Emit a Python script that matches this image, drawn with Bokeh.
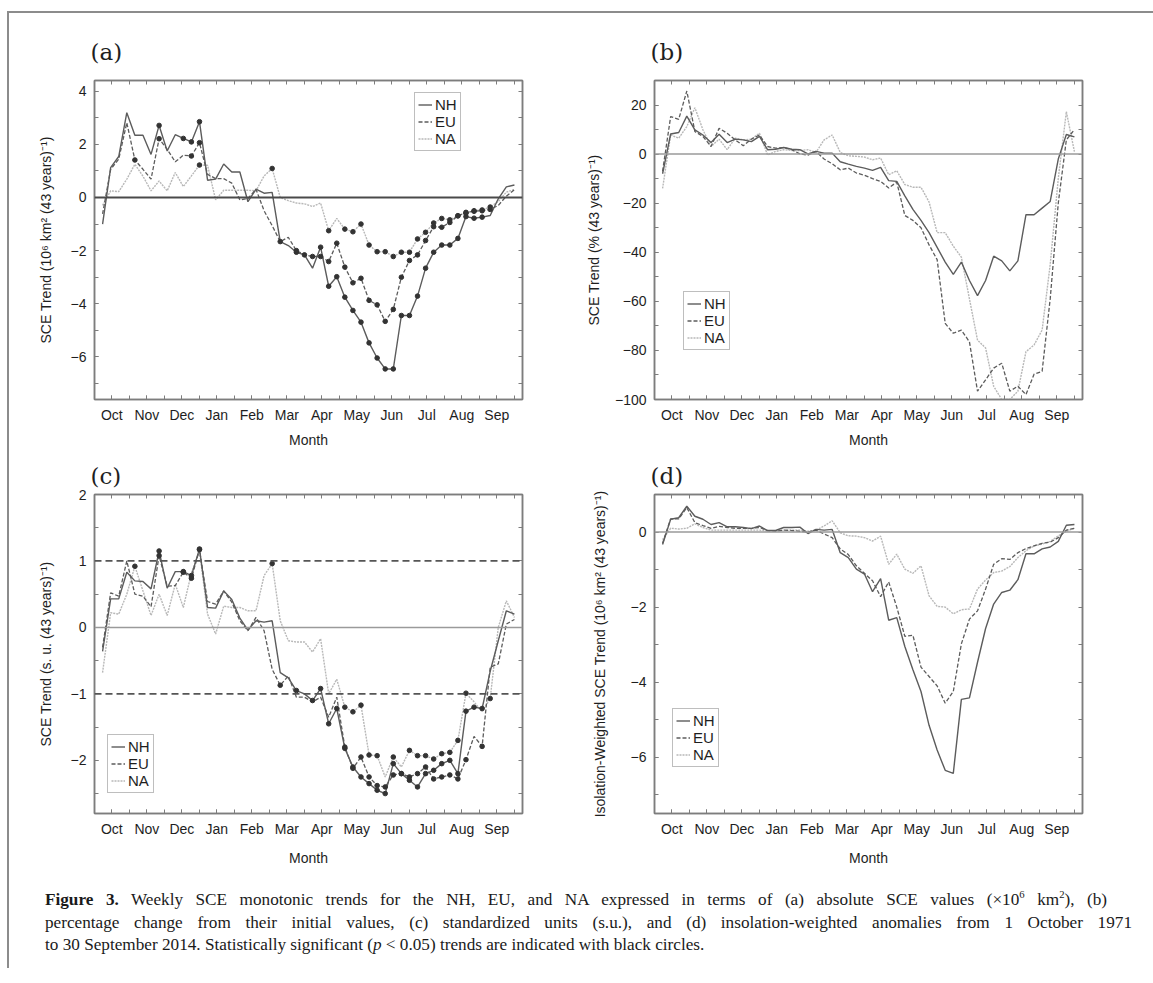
from bokeh.plotting import figure
from bokeh.models import (Range1d, LinearAxis, FixedTicker, CustomJSTickFormatter,
                          Legend, LegendItem, Span, Div)
from bokeh.layouts import row, column
from bokeh.embed import file_html
from bokeh.resources import INLINE

# ---------------- data ----------------
weeks = list(range(52))
months = ["Oct", "Nov", "Dec", "Jan", "Feb", "Mar", "Apr", "May", "Jun", "Jul", "Aug", "Sep"]
series_names = ["NH", "EU", "NA"]
panel_letters = ["(a)", "(b)", "(c)", "(d)"]

# (a) absolute SCE trend (10^6 km^2 per 43 years)
nh_a = [-1.0, 1.12, 1.54, 3.19, 2.34, 2.34, 1.62, 2.71, 1.75, 2.36,
        2.22, 2.09, 2.85, 0.65, 0.69, 1.26, 0.96, 0.96, -0.16, 0.31,
        0.16, 0.19, -1.66, -1.81, -2.06, -2.16, -2.66, -1.87, -3.34, -2.98,
        -3.75, -4.25, -4.69, -5.47, -6.04, -6.45, -6.45, -4.44, -4.44, -3.71,
        -2.66, -2.06, -1.79, -1.79, -1.54, -0.72, -0.78, -0.74, -0.68, -0.05,
        0.40, 0.47]
eu_a = [-0.62, 1.06, 1.44, 2.81, 1.41, 1.06, 0.69, 2.21, 1.81, 1.34,
        1.59, 1.56, 2.06, 0.87, 0.71, 0.71, 0.54, -0.09, -0.04, 0.31,
        -0.5, -1.06, -1.66, -1.5, -2.0, -2.15, -2.22, -2.22, -2.41, -1.72,
        -2.62, -3.21, -3.04, -3.87, -4.04, -4.66, -4.21, -3.0, -2.37, -2.16,
        -1.62, -1.1, -1.12, -0.94, -0.69, -0.56, -0.52, -0.5, -0.45, -0.3,
        0.05, 0.29]
na_a = [-0.3, 0.25, 0.22, 0.69, 1.25, 0.8, 0.25, 0.62, 0.25, 0.94,
        0.41, 0.81, 1.22, 1.21, -0.09, 0.27, 0.27, 0.27, 0.27, 0.25,
        0.81, 1.09, 0.0, -0.12, -0.21, -0.24, -0.34, -0.21, -1.25, -0.79,
        -1.19, -1.29, -1.0, -1.79, -2.04, -2.04, -2.22, -2.06, -2.06, -1.56,
        -1.31, -0.96, -0.79, -0.84, -0.69, -0.59, -0.5, -0.47, -0.36, -0.15,
        0.2, 0.3]
sig_nh_a = [7, 10, 11, 12, 22, 24, 25, 27] + list(range(28, 48))
sig_eu_a = [4, 7, 11, 12, 24, 26, 27] + list(range(28, 49))
sig_na_a = [12, 21, 28] + list(range(30, 49))

# (b) percentage change
nh_b = [-8, 8.2, 8.8, 15.5, 9.9, 7.8, 4.7, 8.1, 4.7, 6.1,
        5.8, 5.1, 7.2, 1.8, 2.0, 2.7, 2.0, 1.8, 0.1, 1.1,
        0.4, 0.4, -3.1, -4.1, -5.0, -5.7, -6.6, -5.4, -10.8, -11.1,
        -17, -22.5, -27, -32, -38, -44, -49, -44, -51.5, -57.7,
        -51.5, -41.6, -43.5, -47.6, -43.5, -24.7, -24.7, -22, -19.3, -2,
        8, 7]
eu_b = [-7, 15.3, 14.2, 25.7, 9.2, 7.2, 3.1, 10.5, 8.5, 5.8,
        3.4, 6.1, 7.8, 3.1, 2.4, 2.7, 1.8, 0.1, -0.4, 1.1,
        -2.0, -3.9, -6.4, -5.7, -7.7, -8.6, -10.0, -11.1, -13.8, -11.4,
        -25, -27, -30, -37, -43, -69, -73, -71.7, -76.5, -96.6,
        -92, -87.2, -85.2, -96.6, -94.6, -98, -89.7, -88.5, -59, -20,
        5.8, 10]
na_b = [-14, 7.8, 6.5, 11.2, 18.9, 9.9, 3.1, 6.1, 1.8, 6.5,
        5.8, 6.1, 8.5, -0.3, 1.1, 1.8, 1.5, 1.5, 1.8, 0.7,
        5.8, 7.8, 0.7, -0.7, -0.9, -1.2, -2.3, -1.6, -8.4, -6.8,
        -12.4, -13.5, -13.5, -19.5, -32, -32, -37.5, -42, -59, -75.8,
        -79, -94.6, -100, -100, -96.6, -80.5, -77.8, -71.7, -45, -10,
        17.3, 1]

# (c) standardized units
nh_c = [-0.36, 0.43, 0.43, 0.83, 0.7, 0.69, 0.58, 1.15, 0.59, 0.84,
        0.84, 0.78, 1.18, 0.3, 0.29, 0.55, 0.42, 0.14, -0.04, 0.1,
        0.08, 0.1, -0.68, -0.76, -0.95, -1.0, -1.1, -0.92, -1.45, -1.22,
        -1.82, -2.1, -2.25, -2.35, -2.45, -2.5, -2.05, -2.2, -2.3, -2.4,
        -2.2, -2.15, -2.05, -2.0, -2.2, -1.26, -1.2, -1.22, -0.66, -0.2,
        0.25, 0.2]
eu_c = [-0.3, 0.52, 0.47, 1.0, 0.5, 0.47, 0.31, 1.08, 0.62, 0.63,
        0.83, 0.74, 1.17, 0.39, 0.35, 0.55, 0.38, 0.1, -0.05, 0.15,
        -0.05, -0.63, -0.87, -0.73, -1.05, -1.05, -1.12, -1.05, -1.35, -1.05,
        -1.8, -2.12, -1.95, -2.25, -2.38, -2.4, -2.22, -2.2, -2.25, -2.2,
        -2.1, -2.28, -2.25, -2.22, -2.28, -1.99, -1.64, -1.79, -0.6, -0.55,
        0.05, 0.12]
na_c = [-0.68, 0.22, 0.2, 0.5, 0.92, 0.55, 0.18, 0.5, 0.18, 0.65,
        0.3, 0.82, 1.15, 0.2, -0.1, 0.32, 0.3, 0.3, 0.25, 0.25,
        0.78, 0.96, 0.1, -0.2, -0.22, -0.22, -0.37, -0.17, -1.0, -0.78,
        -1.2, -1.27, -1.17, -1.92, -1.93, -2.25, -1.95, -2.1, -1.85, -1.93,
        -1.93, -1.98, -1.9, -1.88, -1.7, -0.99, -1.12, -1.27, -1.07, 0.0,
        0.4, 0.15]
sig_nh_c = [7, 10, 11, 12, 24, 26, 27, 28, 29] + list(range(30, 48))
sig_eu_c = [7, 10, 11, 12, 22] + list(range(30, 46)) + [47]
sig_na_c = [4, 21, 30, 31, 32, 33, 34, 36, 38, 39, 40, 41, 42, 43, 44, 45, 48]

# (d) insolation-weighted
nh_d = [-0.33, 0.34, 0.38, 0.69, 0.42, 0.34, 0.2, 0.25, 0.14, 0.14,
        0.12, 0.09, 0.16, 0.04, 0.04, 0.12, 0.12, 0.13, -0.04, 0.07,
        0.05, 0.07, -0.55, -0.68, -0.99, -1.12, -1.59, -1.24, -2.35, -2.28,
        -3.05, -3.67, -4.25, -5.15, -5.81, -6.35, -6.43, -4.46, -4.42, -3.47,
        -2.57, -1.92, -1.61, -1.55, -1.27, -0.58, -0.58, -0.45, -0.4, -0.25,
        0.18, 0.2]
eu_d = [-0.3, 0.35, 0.35, 0.65, 0.25, 0.17, 0.1, 0.15, 0.12, 0.1,
        0.1, 0.1, 0.12, 0.04, 0.02, 0.05, 0.04, 0.02, 0.0, 0.05,
        -0.05, -0.15, -0.45, -0.6, -0.9, -1.1, -1.3, -1.72, -1.33, -2.0,
        -2.78, -2.75, -3.6, -3.85, -4.1, -4.56, -4.25, -2.98, -2.32, -2.1,
        -1.52, -0.86, -0.71, -0.73, -0.55, -0.44, -0.37, -0.3, -0.27, -0.15,
        0.05, 0.1]
na_d = [-0.2, 0.1, 0.08, 0.1, 0.22, 0.12, 0.05, 0.05, 0.05, 0.05,
        0.05, 0.05, 0.05, 0.03, 0.03, 0.05, 0.05, 0.05, 0.02, 0.05,
        0.16, 0.3, -0.02, -0.1, -0.11, -0.15, -0.24, -0.11, -0.86, -0.59,
        -0.99, -1.1, -0.9, -1.7, -1.98, -2.0, -2.18, -2.07, -2.05, -1.52,
        -1.28, -1.08, -1.04, -0.92, -0.68, -0.5, -0.37, -0.32, -0.25, -0.1,
        0.02, 0.1]

# ---------------- styling ----------------
FRAME = "#7d7d7d"
DARK = "#5c5c5c"
LIGHT = "#b8b8b8"
TXT = "#1e1e1e"
SANS = "Liberation Sans"

month_x0 = 1.15
month_step = 52.0 / 12
month_pos = [month_x0 + month_step * k for k in range(12)]
half_pos = [month_x0 + month_step / 2 * j for j in range(24)]

month_fmt = CustomJSTickFormatter(args=dict(names=months, x0=month_x0, step=month_step), code="""
    const i = Math.round((tick - x0) / step);
    return (i >= 0 && i < names.length) ? names[i] : "";
""")


def tick_only_axis(ticks):
    # frame-side tick marks only (no labels drawn)
    return LinearAxis(ticker=FixedTicker(ticks=ticks, minor_ticks=[]),
                      major_tick_in=4, major_tick_out=0, minor_tick_in=0, minor_tick_out=0,
                      major_label_text_font_size="0px", major_label_text_color=None,
                      major_label_standoff=0,
                      axis_line_color=FRAME, axis_line_width=1.5, major_tick_line_color=FRAME)


def make_panel(letter, title_standoff, ylabel, yr, ymaj, yminor, nh, eu, na, sigs, leg_xy,
               W, H, mbl, mbr, mbt, mbb, zero_color, zero_width, ylab_standoff,
               xlab_standoff, dashed_levels=()):
    p = figure(width=W, height=H, x_range=Range1d(-1.0, 52.0), y_range=Range1d(*yr),
               output_backend="svg", toolbar_location=None,
               min_border_left=mbl, min_border_right=mbr,
               min_border_top=mbt, min_border_bottom=mbb)
    p.grid.visible = False
    p.outline_line_color = FRAME
    p.outline_line_width = 1.5

    p.title.text = letter
    p.title.text_font = "DejaVu Serif"
    p.title.text_font_size = "23px"
    p.title.text_font_style = "normal"
    p.title.text_color = TXT
    p.title.offset = -4
    p.title.standoff = title_standoff

    xa = p.below[0]
    xa.ticker = FixedTicker(ticks=month_pos, minor_ticks=half_pos)
    xa.formatter = month_fmt
    xa.axis_label = "Month"

    ya = p.left[0]
    ya.ticker = FixedTicker(ticks=ymaj, minor_ticks=yminor)
    ya.axis_label = ylabel

    for ax in (xa, ya):
        ax.major_tick_in = 4
        ax.major_tick_out = 0
        ax.minor_tick_in = 4
        ax.minor_tick_out = 0
        ax.axis_line_color = FRAME
        ax.axis_line_width = 1.5
        ax.major_tick_line_color = FRAME
        ax.minor_tick_line_color = FRAME
        ax.major_label_text_font = SANS
        ax.major_label_text_font_size = "14px"
        ax.major_label_text_color = TXT
        ax.axis_label_text_font = SANS
        ax.axis_label_text_font_size = "14px"
        ax.axis_label_text_font_style = "normal"
        ax.axis_label_text_color = TXT
    xa.major_label_standoff = 7
    xa.axis_label_standoff = xlab_standoff
    ya.major_label_standoff = 8
    ya.axis_label_standoff = ylab_standoff

    p.add_layout(tick_only_axis(half_pos), "above")
    p.add_layout(tick_only_axis(yminor), "right")

    p.add_layout(Span(location=0, dimension="width", line_color=zero_color, line_width=zero_width))
    for lev in dashed_levels:
        p.add_layout(Span(location=lev, dimension="width", line_color="#555555",
                          line_width=1.8, line_dash="7 4"))

    l_na = p.line(weeks, na, line_color=LIGHT, line_width=1.4, line_dash="2 1")
    l_eu = p.line(weeks, eu, line_color=DARK, line_width=1.3, line_dash="4 2")
    l_nh = p.line(weeks, nh, line_color=DARK, line_width=1.4)

    for vals, idx in zip((nh, eu, na), sigs):
        if idx:
            p.scatter([weeks[i] for i in idx], [vals[i] for i in idx], size=4.6,
                      fill_color="#333333", line_color="#333333")

    leg = Legend(items=[LegendItem(label=series_names[0], renderers=[l_nh]),
                        LegendItem(label=series_names[1], renderers=[l_eu]),
                        LegendItem(label=series_names[2], renderers=[l_na])],
                 location=leg_xy, border_line_color=FRAME, border_line_width=1.5,
                 label_text_font=SANS, label_text_font_size="15px", label_text_color=TXT,
                 label_text_line_height=0.8,
                 glyph_width=14, glyph_height=11, label_height=11, spacing=0,
                 padding=3, margin=0, label_standoff=3, background_fill_alpha=1.0)
    p.add_layout(leg)
    return p


pa = make_panel(panel_letters[0], 32, "SCE Trend (10⁶ km² (43 years)⁻¹)", (-7.6, 4.4),
                [-6, -4, -2, 0, 2, 4], list(range(-7, 5)),
                nh_a, eu_a, na_a, (sig_nh_a, sig_eu_a, sig_na_a), (320, 248),
                W=566, H=437, mbl=85, mbr=53, mbt=67, mbb=50,
                zero_color="#4a4a4a", zero_width=2.0, ylab_standoff=14, xlab_standoff=6)
pb = make_panel(panel_letters[1], 32, "SCE Trend (% (43 years)⁻¹)", (-100, 30),
                [-100, -80, -60, -40, -20, 0, 20], list(range(-100, 31, 10)),
                nh_b, eu_b, na_b, ([], [], []), (29, 49),
                W=577, H=437, mbl=79, mbr=70, mbt=67, mbb=50,
                zero_color="#9a9a9a", zero_width=1.5, ylab_standoff=10, xlab_standoff=6)
pc = make_panel(panel_letters[2], 11, "SCE Trend (s. u. (43 years)⁻¹)", (-2.8, 2.0),
                [-2, -1, 0, 1, 2], [-2.5, -2, -1.5, -1, -0.5, 0, 0.5, 1, 1.5, 2],
                nh_c, eu_c, na_c, (sig_nh_c, sig_eu_c, sig_na_c), (13, 20),
                W=566, H=422, mbl=85, mbr=53, mbt=44, mbb=59,
                zero_color="#9a9a9a", zero_width=1.5, ylab_standoff=14, xlab_standoff=10,
                dashed_levels=(1, -1))
pd_ = make_panel(panel_letters[3], 11, "Isolation-Weighted SCE Trend (10⁶ km² (43 years)⁻¹)",
                 (-7.5, 1.0), [-6, -4, -2, 0], list(range(-7, 2)),
                 nh_d, eu_d, na_d, ([], [], []), (18, 46),
                 W=577, H=422, mbl=79, mbr=70, mbt=44, mbb=59,
                 zero_color="#9a9a9a", zero_width=1.5, ylab_standoff=20, xlab_standoff=10)

SUP = '<sup style="font-size:62%;line-height:0;vertical-align:super">{}</sup>'
caption_html = f"""
<div style="margin:12px 0 0 31px; font-family:'Liberation Serif',serif; font-size:17.2px; line-height:22.5px; color:#1a1a1a; white-space:nowrap;">
<div style="width:1062px; text-align:justify; text-align-last:justify;"><b>Figure 3.</b> Weekly SCE monotonic trends for the NH, EU, and NA expressed in terms of (a) absolute SCE values (×10{SUP.format('6')} km{SUP.format('2')}), (b)</div>
<div style="width:1087px; text-align:justify; text-align-last:justify;">percentage change from their initial values, (c) standardized units (s.u.), and (d) insolation-weighted anomalies from 1 October 1971</div>
<div>to 30 September 2014. Statistically significant (<i>p</i>&nbsp;&lt;&nbsp;0.05) trends are indicated with black circles.</div>
</div>
"""
cap = Div(text=caption_html, width=1143, height=86)

layout = column(row(pa, pb), row(pc, pd_), cap,
                styles={"border-top": "2px solid #8c8c8c", "border-left": "2px solid #8c8c8c",
                        "margin-top": "11px", "margin-left": "7px"})

open("out.html", "w").write(file_html(layout, INLINE))
